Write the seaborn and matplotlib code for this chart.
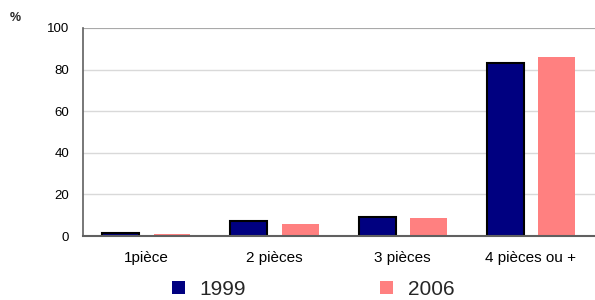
import pandas as pd
import numpy as np
import matplotlib.pyplot as plt
import seaborn as sns
from matplotlib.patches import Patch

# données
categories = ['1pièce', '2 pièces', '3 pièces', '4 pièces ou +']
annees = ['1999', '2006']
valeurs_1999 = [1.3, 7.0, 9.0, 83.0]
valeurs_2006 = [0.9, 5.8, 8.6, 86.0]
couleurs = ['#000080', '#FF8080']

data = pd.DataFrame({
    'categorie': categories * 2,
    'annee': [annees[0]] * 4 + [annees[1]] * 4,
    'valeur': valeurs_1999 + valeurs_2006,
})

sns.set_style('white')
plt.rcParams['font.family'] = ['Liberation Sans', 'DejaVu Sans']

fig = plt.figure(figsize=(5.95, 3.0), dpi=100)
ax = fig.add_axes([0.1395, 0.2133, 0.8605, 0.6934])

sns.barplot(data=data, x='categorie', y='valeur', hue='annee',
            palette=couleurs, width=0.8, gap=0.28, ax=ax, legend=False,
            saturation=1)

# contour noir seulement pour 1999
for patch in ax.patches[:4]:
    patch.set_edgecolor('black')
    patch.set_linewidth(1.5)
for patch in ax.patches[4:]:
    patch.set_linewidth(0)

ax.set_ylim(0, 100)
ax.set_xlim(-0.494, 3.5)
ax.set_yticks(range(0, 101, 20))
ax.yaxis.grid(True, color='#d9d9d9', linewidth=1)
ax.set_axisbelow(True)
ax.set_xlabel('')
ax.set_ylabel('')
for s in ['top', 'right']:
    ax.spines[s].set_visible(False)
ax.spines['left'].set_color('#606060')
ax.spines['bottom'].set_color('#606060')
ax.spines['left'].set_linewidth(1.2)
ax.spines['bottom'].set_linewidth(1.5)
ax.axhline(100, color='#a0a0a0', linewidth=1.2)
ax.tick_params(axis='y', labelsize=9.5, pad=10, length=0, colors='black')
ax.tick_params(axis='x', labelsize=11, pad=11, length=0, colors='black')

fig.text(0.017, 0.94, '%', fontsize=9, fontweight='bold', va='center')

poignees = [Patch(facecolor=c, edgecolor='none') for c in couleurs]
fig.legend(poignees, annees, loc='center', bbox_to_anchor=(0.526, 0.036),
           ncol=2, frameon=False, fontsize=15, handlelength=0.63,
           handleheight=0.63, handletextpad=0.72, columnspacing=6.4)

fig.savefig('out.png', dpi=100)
